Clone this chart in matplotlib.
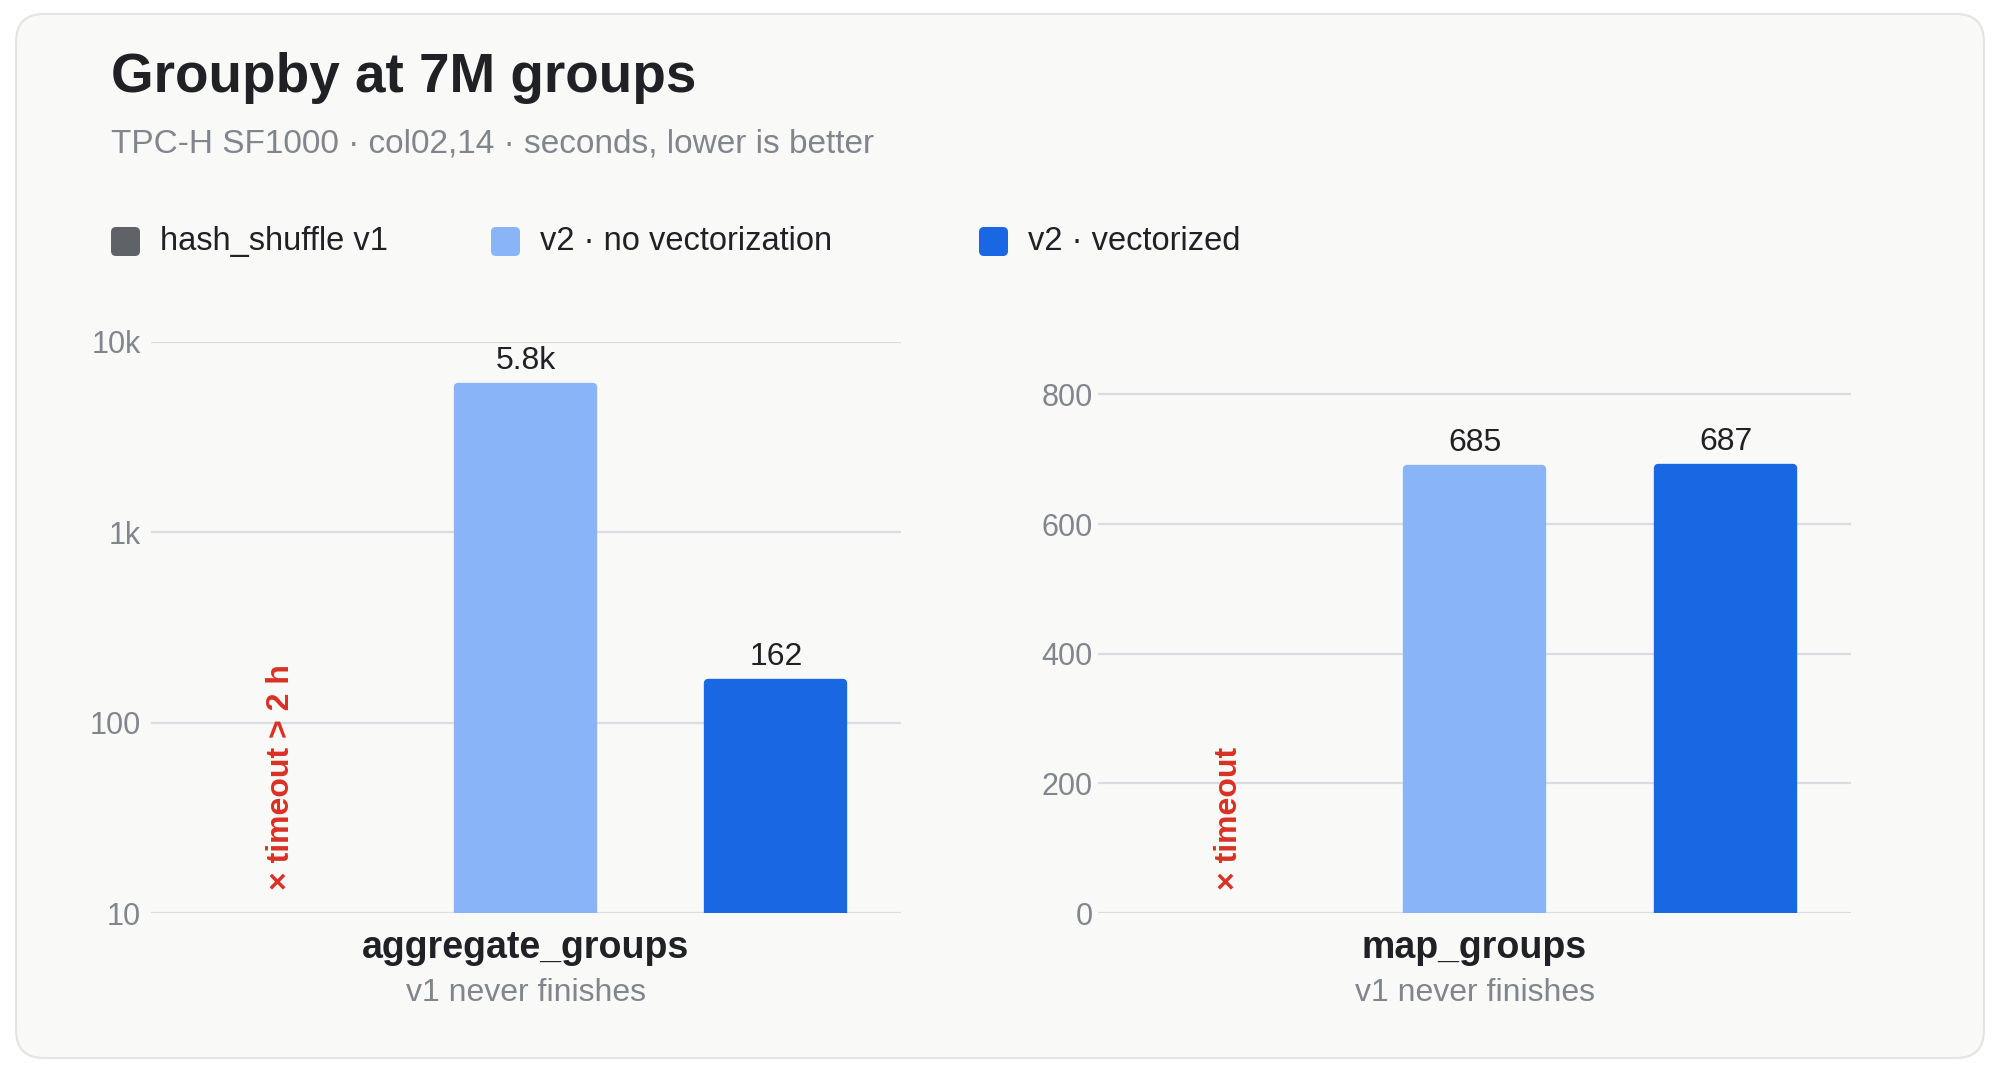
import numpy as np
import matplotlib
matplotlib.use("Agg")
import matplotlib.pyplot as plt
from matplotlib.patches import FancyBboxPatch
import matplotlib.transforms as mtransforms

# data
categories = ["aggregate_groups", "map_groups"]
notes = ["v1 never finishes", "v1 never finishes"]
series = ["hash_shuffle v1", "v2 · no vectorization", "v2 · vectorized"]
v1_timeout = ["× timeout > 2 h", "× timeout"]
v2_novec = [5800, 685]
v2_vec = [162, 687]
colors = ["#5f6368", "#8ab4f8", "#1a67e3"]

log_ticks = [10, 100, 1000, 10000]
log_ticklabels = ["10", "100", "1k", "10k"]
lin_ticks = [0, 200, 400, 600, 800]

TXT = "#202124"
GREY = "#80868b"
GRID = "#dadce0"
RED = "#d93025"

plt.rcParams["font.family"] = ["Liberation Sans", "DejaVu Sans"]


def fmt(v):
    if v >= 1000:
        return f"{v / 1000:.1f}k"
    return f"{v:g}"


def draw_panel(ax, i, log):
    if log:
        ax.set_yscale("log")
    x = np.arange(3)
    vals = [v2_novec[i], v2_vec[i]]
    # edge in the face colour with round joins gives the soft corners
    bars = ax.bar(x[1:], vals, width=0.54, color=colors[1:],
                  edgecolor=colors[1:], linewidth=6, joinstyle="round", zorder=3)
    for b, v in zip(bars, vals):
        ax.annotate(fmt(v), (b.get_x() + b.get_width() / 2, v),
                    xytext=(0, 8), textcoords="offset points",
                    ha="center", va="bottom", fontsize=23, color=TXT)
    trans = mtransforms.blended_transform_factory(ax.transData, ax.transAxes)
    ax.text(x[0] + 0.02, 0.04, v1_timeout[i], transform=trans, rotation=90,
            ha="center", va="bottom", fontsize=23, fontweight="bold", color=RED)
    ax.text(1, -0.062, categories[i], transform=trans, ha="center", va="center",
            fontsize=27, fontweight="bold", color=TXT)
    ax.text(1, -0.14, notes[i], transform=trans, ha="center", va="center",
            fontsize=23, color=GREY)

    ax.set_xlim(-0.5, 2.5)
    ax.set_xticks([])
    if log:
        ax.set_ylim(10, 10000)
        ax.set_yticks(log_ticks)
        ax.set_yticklabels(log_ticklabels)
        ax.minorticks_off()
        ax.tick_params(axis="y", pad=7)
    else:
        ax.set_ylim(0, 881)
        ax.set_yticks(lin_ticks)
        ax.tick_params(axis="y", pad=4)
    ax.tick_params(axis="y", length=0, labelsize=22, labelcolor=GREY)
    ax.grid(axis="y", color=GRID, linewidth=1.6, zorder=0)
    ax.set_axisbelow(True)
    for s in ax.spines.values():
        s.set_visible(False)
    ax.set_facecolor("none")


fig = plt.figure(figsize=(19.99, 10.66), dpi=100)
fig.patch.set_facecolor("white")

card = FancyBboxPatch((0.16, 0.08), 19.68, 10.44,
                      boxstyle="round,pad=0,rounding_size=0.28",
                      transform=fig.dpi_scale_trans, facecolor="#f9f9f8",
                      edgecolor="#e4e4e4", linewidth=1.5, zorder=0)
fig.add_artist(card)

fig.text(0.0555, 0.9137, "Groupby at 7M groups", fontsize=39.5,
         fontweight="bold", color=TXT, va="baseline")
fig.text(0.0555, 0.857, "TPC-H SF1000 · col02,14 · seconds, lower is better",
         fontsize=24, color=GREY, va="baseline")

# legend row
leg_x = [1.11, 4.91, 9.79]
for lx, name, c in zip(leg_x, series, colors):
    fig.add_artist(FancyBboxPatch((lx, 8.10), 0.29, 0.29,
                                  boxstyle="round,pad=0,rounding_size=0.05",
                                  transform=fig.dpi_scale_trans,
                                  facecolor=c, edgecolor="none"))
    fig.text((lx + 0.49) / 19.99, 8.245 / 10.66, name, fontsize=23.5,
             color=TXT, va="center")

ax1 = fig.add_axes([0.0755, 0.1435, 0.3752, 0.5357])
ax2 = fig.add_axes([0.5493, 0.1435, 0.3767, 0.5357])
draw_panel(ax1, 0, True)
draw_panel(ax2, 1, False)

fig.savefig("out.png", dpi=100, facecolor=fig.get_facecolor())
